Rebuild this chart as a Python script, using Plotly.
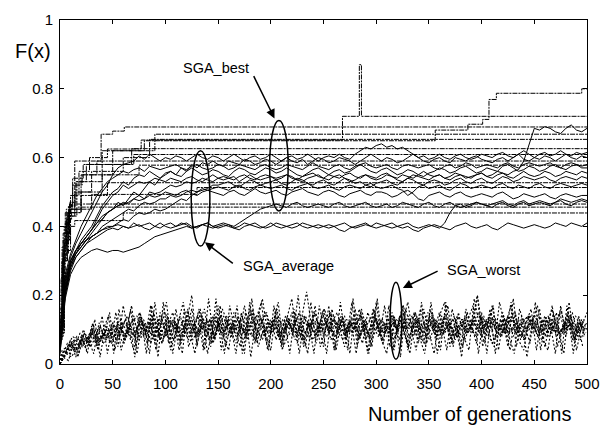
import plotly.graph_objects as go

# ---------------- data ----------------
GENS = list(range(0, 501, 5))

# SGA_average curves (solid), sampled every 5 generations
AVG_1 = [.06,.25,.31,.35,.38,.41,.44,.47,.50,.52,.55,
         .57,.58,.585,.59,.605,.595,.61,.60,.59,.60,
         .595,.605,.60,.59,.60,.61,.60,.595,.605,.60,
         .59,.60,.61,.60,.59,.60,.605,.595,.60,.61,
         .60,.59,.60,.605,.595,.60,.61,.60,.59,.60,
         .605,.60,.61,.60,.595,.61,.62,.63,.625,.635,
         .64,.63,.635,.625,.63,.62,.61,.60,.605,.595,
         .60,.61,.60,.595,.605,.61,.60,.595,.60,.61,
         .605,.60,.61,.615,.605,.60,.61,.62,.61,.60,
         .61,.615,.605,.61,.62,.61,.605,.615,.61,.615]
AVG_2 = [.04,.20,.28,.32,.35,.37,.39,.41,.42,.44,.45,
         .47,.46,.48,.50,.49,.51,.53,.52,.54,.55,
         .56,.55,.57,.56,.58,.57,.585,.58,.59,.58,
         .575,.59,.585,.58,.595,.59,.58,.585,.595,.59,
         .58,.59,.60,.59,.585,.595,.58,.59,.60,.595,
         .585,.59,.60,.595,.59,.58,.59,.60,.61,.60,
         .59,.60,.595,.585,.59,.60,.61,.60,.59,.585,
         .595,.60,.59,.585,.60,.595,.59,.60,.605,.595,
         .59,.585,.595,.60,.59,.60,.61,.595,.59,.60,
         .595,.605,.60,.59,.60,.61,.60,.595,.605,.60]
AVG_3 = [.08,.24,.30,.33,.36,.38,.40,.43,.46,.48,.50,
         .51,.53,.52,.54,.55,.545,.56,.55,.54,.555,
         .56,.55,.545,.56,.57,.56,.55,.555,.565,.56,
         .55,.545,.56,.57,.565,.555,.55,.56,.57,.565,
         .555,.56,.57,.56,.55,.545,.555,.565,.57,.56,
         .55,.56,.565,.555,.56,.57,.58,.57,.56,.555,
         .565,.57,.56,.55,.555,.565,.56,.55,.545,.555,
         .56,.57,.565,.555,.56,.57,.575,.565,.555,.56,
         .57,.565,.56,.575,.58,.57,.56,.565,.575,.57,
         .56,.565,.575,.58,.57,.565,.575,.58,.57,.57]
AVG_4 = [.03,.21,.29,.33,.35,.37,.39,.42,.45,.47,.49,
         .50,.52,.51,.52,.53,.525,.53,.54,.535,.53,
         .54,.535,.53,.54,.545,.535,.53,.54,.55,.54,
         .535,.54,.545,.53,.54,.55,.54,.535,.54,.545,
         .535,.54,.55,.545,.535,.53,.54,.545,.55,.54,
         .535,.545,.55,.54,.53,.535,.545,.55,.54,.535,
         .54,.55,.545,.535,.53,.54,.55,.545,.54,.535,
         .545,.55,.54,.535,.545,.55,.545,.54,.55,.555,
         .545,.54,.55,.555,.545,.54,.55,.56,.55,.545,
         .55,.56,.555,.545,.55,.56,.555,.55,.56,.555]
AVG_5 = [.05,.22,.29,.32,.34,.36,.38,.40,.42,.44,.45,
         .46,.47,.465,.48,.49,.48,.50,.495,.50,.51,
         .52,.515,.52,.53,.525,.53,.54,.535,.53,.54,
         .545,.54,.535,.545,.55,.54,.535,.545,.55,.545,
         .54,.545,.55,.54,.535,.545,.55,.555,.545,.54,
         .55,.545,.54,.55,.555,.545,.54,.55,.545,.54,
         .55,.555,.545,.54,.55,.545,.54,.55,.56,.55,
         .545,.55,.54,.545,.555,.55,.54,.545,.55,.555,
         .545,.55,.56,.555,.55,.56,.565,.59,.64,.685,
         .68,.69,.685,.675,.67,.685,.695,.68,.675,.685]
AVG_6 = [.07,.23,.30,.33,.35,.36,.37,.38,.39,.40,.40,
         .41,.42,.415,.43,.44,.435,.44,.45,.445,.45,
         .46,.47,.48,.475,.49,.50,.505,.51,.52,.52,
         .525,.53,.52,.515,.525,.535,.53,.52,.525,.53,
         .535,.525,.52,.53,.54,.535,.525,.52,.53,.535,
         .525,.52,.53,.54,.535,.525,.53,.52,.515,.525,
         .53,.535,.525,.52,.53,.54,.535,.525,.52,.53,
         .535,.53,.52,.525,.535,.54,.53,.525,.535,.54,
         .53,.525,.535,.545,.54,.53,.535,.545,.54,.535,
         .54,.545,.535,.53,.54,.545,.54,.535,.545,.54]
AVG_7 = [.04,.21,.28,.31,.33,.35,.37,.38,.40,.41,.42,
         .43,.44,.45,.445,.46,.47,.465,.47,.48,.48,
         .49,.485,.49,.50,.505,.50,.51,.505,.51,.515,
         .51,.505,.515,.52,.51,.505,.515,.52,.515,.51,
         .515,.52,.51,.505,.515,.52,.525,.515,.51,.515,
         .52,.51,.505,.515,.52,.515,.51,.52,.525,.515,
         .51,.515,.52,.51,.505,.49,.50,.515,.52,.51,
         .515,.52,.51,.505,.515,.525,.52,.51,.515,.52,
         .515,.51,.52,.525,.515,.51,.52,.515,.51,.52,
         .525,.515,.51,.52,.525,.52,.515,.52,.525,.52]
AVG_8 = [.06,.22,.29,.32,.34,.36,.37,.38,.39,.395,.40,
         .405,.40,.395,.41,.40,.405,.41,.40,.395,.405,
         .41,.40,.405,.41,.40,.395,.405,.41,.40,.405,
         .41,.405,.40,.41,.42,.43,.44,.45,.455,.46,
         .465,.46,.455,.465,.47,.46,.455,.46,.465,.46,
         .455,.465,.47,.46,.455,.46,.465,.47,.46,.455,
         .46,.465,.455,.46,.47,.465,.46,.455,.465,.47,
         .46,.455,.465,.47,.46,.455,.46,.465,.47,.465,
         .46,.465,.47,.475,.465,.46,.47,.475,.465,.47,
         .475,.47,.465,.47,.48,.475,.47,.475,.48,.475]
AVG_9 = [.05,.20,.27,.31,.33,.35,.36,.37,.38,.39,.395,
         .39,.40,.395,.40,.405,.395,.39,.40,.41,.40,
         .395,.40,.41,.405,.395,.40,.405,.41,.40,.395,
         .40,.405,.395,.39,.40,.405,.41,.40,.395,.40,
         .41,.405,.40,.395,.40,.41,.405,.40,.395,.40,
         .405,.40,.39,.385,.395,.40,.405,.41,.40,.395,
         .40,.405,.41,.40,.395,.40,.39,.385,.395,.40,
         .405,.40,.395,.39,.40,.405,.41,.40,.395,.40,
         .405,.395,.39,.40,.41,.405,.40,.395,.40,.405,
         .40,.395,.40,.41,.405,.40,.41,.405,.40,.41]
AVG_10 = [.03,.19,.26,.29,.31,.32,.33,.335,.33,.325,.33,
          .33,.325,.33,.335,.34,.35,.36,.37,.375,.38,
          .385,.39,.395,.40,.395,.40,.405,.40,.395,.40,
          .405,.40,.395,.40,.41,.405,.40,.395,.40,.41,
          .40,.395,.40,.405,.41,.40,.395,.40,.405,.40,
          .395,.40,.405,.41,.40,.395,.40,.405,.40,.41,
          .405,.40,.395,.40,.405,.41,.40,.395,.40,.405,
          .40,.395,.41,.44,.46,.465,.455,.46,.47,.465,
          .46,.455,.465,.47,.46,.455,.465,.47,.46,.465,
          .47,.465,.46,.47,.475,.465,.46,.47,.475,.47]
AVG_11 = [.09,.24,.30,.33,.35,.37,.39,.41,.43,.44,.45,
          .46,.465,.47,.48,.475,.48,.49,.485,.49,.50,
          .495,.49,.50,.505,.495,.49,.50,.505,.50,.495,
          .49,.50,.505,.495,.49,.50,.51,.50,.495,.50,
          .505,.495,.49,.50,.505,.51,.50,.495,.49,.50,
          .505,.50,.49,.485,.495,.50,.505,.495,.49,.50,
          .50,.495,.485,.49,.50,.505,.495,.48,.475,.49,
          .495,.50,.49,.485,.495,.50,.49,.485,.49,.495,
          .49,.485,.495,.50,.49,.48,.485,.495,.49,.485,
          .49,.495,.485,.48,.49,.495,.49,.485,.49,.49]
AVG_12 = [.11,.26,.32,.36,.40,.43,.46,.49,.51,.53,.54,
          .55,.56,.555,.565,.57,.56,.575,.57,.565,.57,
          .575,.58,.57,.565,.575,.58,.57,.565,.57,.58,
          .575,.565,.57,.58,.575,.57,.565,.575,.58,.57,
          .565,.57,.58,.575,.57,.565,.575,.585,.575,.57,
          .565,.575,.58,.57,.565,.575,.58,.585,.575,.57,
          .575,.58,.57,.565,.575,.58,.575,.57,.575,.58,
          .57,.565,.575,.58,.57,.575,.585,.58,.57,.575,
          .58,.575,.57,.58,.585,.575,.57,.58,.585,.58,
          .575,.58,.585,.575,.57,.58,.585,.58,.575,.58]

# SGA_worst curves (dotted); each sampled every 5 generations with its own start
WORST_GENS_0 = list(range(0, 501, 5))
WORST_GENS_1 = [0] + list(range(1, 500, 5))
WORST_GENS_2 = [0] + list(range(2, 500, 5))
WORST_GENS_3 = [0] + list(range(3, 500, 5))
WORST_GENS_4 = [0] + list(range(4, 500, 5))

WORST_1 = [0,.03,.05,.04,.07,.06,.09,.05,.08,.11,.07,
           .12,.08,.10,.14,.07,.09,.13,.06,.11,.15,
           .09,.12,.07,.10,.16,.08,.11,.13,.06,.10,
           .14,.09,.12,.08,.17,.10,.07,.12,.15,.09,
           .11,.06,.13,.10,.08,.14,.12,.07,.10,.16,
           .09,.13,.11,.05,.12,.10,.15,.08,.11,.13,
           .07,.10,.14,.09,.12,.18,.08,.11,.06,.13,
           .10,.15,.09,.12,.07,.11,.14,.10,.08,.13,
           .12,.06,.10,.15,.09,.11,.13,.07,.12,.10,
           .14,.08,.11,.09,.16,.10,.12,.07,.13,.10]
WORST_2 = [0,.02,.06,.05,.04,.08,.07,.10,.06,.09,.08,
           .10,.13,.07,.11,.09,.14,.08,.12,.10,.06,
           .11,.15,.09,.13,.08,.10,.12,.16,.07,.11,
           .09,.13,.10,.06,.14,.11,.08,.12,.19,.09,
           .12,.10,.07,.13,.11,.15,.09,.12,.08,.10,
           .13,.07,.11,.14,.09,.12,.10,.06,.15,.11,
           .08,.12,.10,.14,.07,.13,.11,.09,.16,.10,
           .12,.08,.14,.11,.06,.10,.13,.09,.12,.15,
           .10,.13,.07,.11,.09,.14,.12,.08,.10,.13,
           .11,.07,.12,.16,.09,.10,.14,.08,.11,.12]
WORST_3 = [0,.04,.03,.07,.06,.05,.09,.08,.07,.10,.09,
           .08,.11,.14,.09,.07,.12,.10,.15,.08,.11,
           .13,.10,.06,.12,.14,.09,.11,.08,.13,.10,
           .16,.12,.09,.11,.07,.10,.13,.15,.08,.12,
           .10,.07,.14,.11,.09,.13,.21,.10,.08,.12,
           .11,.14,.09,.07,.12,.10,.16,.11,.08,.13,
           .09,.11,.14,.10,.12,.06,.10,.13,.09,.15,
           .11,.08,.12,.10,.14,.09,.07,.11,.13,.10,
           .12,.15,.09,.11,.08,.13,.10,.12,.14,.09,
           .10,.13,.08,.11,.15,.09,.12,.10,.07,.11]
WORST_4 = [0,.03,.04,.06,.08,.05,.07,.09,.10,.06,.08,
           .09,.07,.12,.10,.08,.13,.11,.06,.10,.14,
           .08,.12,.11,.09,.15,.07,.10,.13,.11,.08,
           .12,.09,.14,.10,.13,.08,.11,.07,.12,.15,
           .09,.11,.13,.08,.10,.14,.07,.12,.09,.11,
           .16,.10,.08,.13,.11,.09,.12,.14,.10,.07,
           .11,.13,.09,.12,.10,.15,.08,.11,.13,.09,
           .07,.12,.10,.14,.11,.08,.13,.09,.12,.20,
           .10,.08,.13,.11,.09,.12,.15,.10,.07,.12,
           .14,.09,.11,.13,.08,.10,.12,.15,.09,.11]
WORST_5 = [0,.02,.05,.07,.05,.09,.06,.08,.11,.07,.10,
           .07,.10,.08,.12,.14,.09,.06,.11,.13,.08,
           .10,.07,.13,.11,.09,.12,.16,.08,.10,.14,
           .09,.11,.08,.13,.10,.07,.15,.12,.09,.11,
           .13,.08,.10,.12,.07,.11,.14,.09,.13,.10,
           .08,.12,.15,.10,.09,.13,.07,.11,.12,.16,
           .10,.09,.12,.08,.14,.11,.10,.13,.07,.12,
           .15,.10,.09,.11,.13,.08,.12,.10,.14,.09,
           .11,.13,.10,.08,.12,.17,.09,.11,.10,.13,
           .08,.12,.14,.10,.09,.11,.13,.07,.12,.10]
WORST_6 = [0,.03,.06,.04,.06,.07,.10,.06,.09,.08,.12,
           .09,.06,.11,.13,.08,.10,.12,.07,.15,.09,
           .12,.10,.08,.11,.13,.06,.12,.09,.14,.11,
           .08,.13,.10,.12,.09,.16,.11,.08,.10,.13,
           .07,.12,.10,.15,.09,.11,.08,.13,.10,.14,
           .09,.11,.13,.08,.12,.10,.14,.07,.11,.10,
           .13,.08,.12,.10,.09,.14,.11,.07,.12,.13,
           .09,.11,.14,.08,.10,.12,.09,.13,.11,.08,
           .13,.10,.12,.09,.14,.08,.11,.13,.10,.12,
           .09,.14,.10,.12,.08,.11,.13,.09,.10,.12]
WORST_7 = [0,.04,.05,.08,.07,.06,.08,.11,.07,.09,.10,
           .11,.09,.13,.08,.10,.12,.09,.14,.11,.07,
           .09,.13,.11,.10,.07,.12,.09,.11,.13,.08,
           .14,.10,.12,.08,.11,.09,.13,.10,.07,.12,
           .11,.14,.09,.12,.10,.08,.12,.11,.15,.09,
           .12,.10,.08,.11,.13,.09,.10,.12,.08,.14,
           .12,.09,.11,.07,.13,.10,.12,.15,.10,.08,
           .10,.13,.08,.12,.10,.14,.11,.09,.12,.10,
           .09,.11,.14,.10,.13,.09,.11,.08,.12,.14,
           .12,.10,.08,.13,.11,.09,.15,.12,.10,.13]
WORST_8 = [0,.02,.04,.05,.09,.07,.05,.08,.10,.08,.06,
           .10,.12,.09,.07,.11,.13,.10,.08,.12,.11,
           .07,.10,.14,.09,.12,.08,.11,.10,.06,.13,
           .10,.08,.11,.14,.09,.12,.10,.13,.11,.08,
           .14,.09,.11,.10,.13,.07,.10,.12,.09,.15,
           .10,.13,.11,.09,.12,.14,.08,.10,.13,.11,
           .09,.12,.08,.13,.11,.10,.14,.09,.12,.10,
           .13,.11,.09,.12,.08,.10,.13,.11,.09,.14,
           .10,.12,.11,.08,.13,.10,.09,.12,.14,.11,
           .08,.11,.13,.10,.09,.12,.10,.14,.11,.09]
WORST_9 = [0,.01,.03,.02,.05,.08,.03,.12,.04,.10,.14,
           .03,.16,.06,.12,.02,.15,.08,.17,.04,.13,
           .18,.05,.11,.03,.16,.09,.14,.04,.19,.07,
           .12,.03,.17,.10,.05,.15,.02,.13,.18,.06,
           .11,.16,.04,.14,.08,.20,.05,.12,.03,.17,
           .09,.15,.04,.18,.07,.13,.03,.16,.10,.05,
           .19,.06,.14,.04,.12,.17,.05,.15,.08,.03,
           .16,.11,.04,.18,.07,.13,.02,.15,.09,.20,
           .05,.12,.17,.04,.14,.08,.03,.16,.11,.06,
           .18,.04,.13,.09,.15,.03,.17,.07,.12,.05]
WORST_10 = [0,.02,.01,.06,.03,.09,.05,.13,.02,.11,.06,
            .15,.04,.10,.17,.03,.12,.07,.14,.02,.18,
            .06,.13,.04,.16,.09,.03,.15,.11,.05,.19,
            .04,.14,.08,.17,.03,.12,.16,.05,.10,.04,
            .17,.07,.13,.03,.15,.10,.05,.18,.06,.12,
            .03,.16,.09,.14,.04,.19,.07,.11,.03,.15,
            .08,.17,.05,.13,.02,.16,.10,.04,.18,.06,
            .14,.03,.12,.17,.05,.15,.08,.04,.19,.11,
            .06,.16,.03,.13,.09,.18,.05,.14,.02,.12,
            .17,.07,.04,.15,.10,.03,.18,.06,.13,.08]
WORST_11 = [0,.03,.07,.02,.08,.04,.11,.06,.14,.03,.12,
            .05,.17,.09,.04,.15,.11,.03,.18,.07,.13,
            .04,.16,.06,.12,.20,.05,.14,.03,.11,.17,
            .08,.04,.15,.12,.03,.18,.06,.14,.09,.04,
            .16,.05,.13,.19,.06,.10,.03,.15,.12,.05,
            .17,.04,.11,.14,.03,.16,.08,.13,.05,.18,
            .07,.03,.15,.10,.17,.04,.12,.06,.16,.09,
            .03,.14,.18,.05,.11,.04,.16,.12,.06,.15,
            .03,.17,.08,.13,.05,.19,.07,.04,.14,.10,
            .16,.05,.12,.03,.17,.08,.14,.04,.11,.15]
WORST_12 = [0,.01,.04,.06,.02,.10,.07,.03,.12,.08,.15,
            .04,.11,.07,.16,.05,.13,.03,.17,.09,.06,
            .14,.03,.12,.18,.05,.10,.16,.04,.13,.07,
            .17,.05,.11,.03,.15,.08,.19,.06,.13,.04,
            .12,.18,.05,.09,.16,.03,.14,.07,.17,.05,
            .11,.15,.04,.13,.08,.18,.05,.12,.03,.16,
            .10,.06,.17,.04,.14,.09,.03,.15,.11,.05,
            .18,.07,.12,.04,.16,.10,.05,.13,.17,.03,
            .14,.08,.05,.18,.11,.04,.15,.07,.12,.16,
            .04,.13,.09,.17,.05,.11,.15,.03,.14,.08]

# SGA_best curves (dash-dot staircases): generation of each step and the new value
BEST_GENS = [
    [0, 2, 4, 8, 12, 21, 35, 39, 50, 61, 500],
    [0, 3, 6, 10, 18, 28, 45, 77, 268, 284, 286, 500],
    [0, 2, 5, 9, 15, 25, 40, 80, 356, 387, 401, 407, 414, 495, 500],
    [0, 3, 7, 14, 30, 60, 85, 500],
    [0, 2, 6, 12, 22, 68, 500],
    [0, 4, 9, 16, 40, 70, 500],
    [0, 1, 5, 14, 500],
    [0, 3, 8, 20, 40, 75, 500],
    [0, 4, 10, 20, 45, 500],
    [0, 3, 9, 30, 130, 500],
    [0, 2, 6, 11, 500],
    [0, 3, 8, 16, 500],
    [0, 4, 10, 14, 60, 500],
    [0, 3, 7, 20, 50, 90, 500],
]
BEST_VALS = [
    [.12, .28, .40, .46, .52, .55, .59, .668, .677, .689, .689],
    [.10, .33, .42, .49, .56, .60, .625, .651, .72, .87, .72, .72],
    [.14, .30, .41, .47, .53, .58, .62, .649, .68, .697, .711, .769, .787, .80, .80],
    [.08, .30, .43, .50, .56, .60, .653, .653],
    [.16, .34, .45, .54, .58, .626, .626],
    [.09, .36, .46, .53, .58, .609, .609],
    [.13, .25, .44, .59, .59],
    [.11, .32, .44, .50, .55, .578, .578],
    [.10, .35, .45, .49, .527, .527],
    [.12, .38, .45, .493, .513, .513],
    [.07, .30, .42, .465, .465],
    [.15, .36, .43, .456, .456],
    [.09, .33, .40, .417, .439, .439],
    [.11, .30, .44, .55, .62, .668, .668],
]

X_TICKS = [0, 50, 100, 150, 200, 250, 300, 350, 400, 450, 500]
Y_TICKS = [0, 0.2, 0.4, 0.6, 0.8, 1]
Y_TICK_TEXT = ["0", "0.2", "0.4", "0.6", "0.8", "1"]

AVERAGE = [AVG_1, AVG_2, AVG_3, AVG_4, AVG_5, AVG_6, AVG_7, AVG_8, AVG_9, AVG_10, AVG_11, AVG_12]
WORST = [(WORST_GENS_0, WORST_1), (WORST_GENS_2, WORST_2), (WORST_GENS_4, WORST_3),
         (WORST_GENS_1, WORST_4), (WORST_GENS_3, WORST_5), (WORST_GENS_0, WORST_6),
         (WORST_GENS_2, WORST_7), (WORST_GENS_4, WORST_8), (WORST_GENS_1, WORST_9),
         (WORST_GENS_3, WORST_10), (WORST_GENS_0, WORST_11), (WORST_GENS_2, WORST_12)]

# ---------------- figure ----------------
FONT = "Liberation Sans, Arial, Helvetica, sans-serif"
fig = go.Figure()

for gx, vals in WORST:
    fig.add_trace(go.Scatter(x=gx, y=vals, mode="lines",
                             line=dict(color="black", width=1.1, dash="2px,2px"),
                             hoverinfo="skip"))

for vals in AVERAGE:
    fig.add_trace(go.Scatter(x=GENS, y=vals, mode="lines",
                             line=dict(color="black", width=1),
                             hoverinfo="skip"))

for gx, vals in zip(BEST_GENS, BEST_VALS):
    fig.add_trace(go.Scatter(x=gx, y=vals, mode="lines",
                             line=dict(color="black", width=1, dash="5px,1px,2px,1px", shape="hv"),
                             hoverinfo="skip"))

axis_common = dict(showline=True, linecolor="black", linewidth=1, mirror="ticks",
                   ticks="inside", ticklen=4, tickcolor="black", showgrid=False,
                   zeroline=False, tickfont=dict(family=FONT, size=15, color="black"))

fig.update_xaxes(range=[0, 500], tickvals=X_TICKS, ticklabelstandoff=6, **axis_common)
fig.update_yaxes(range=[0, 1], tickvals=Y_TICKS, ticktext=Y_TICK_TEXT, ticklabelstandoff=3, **axis_common)

# ellipses marking the three groups
ell = dict(type="circle", xref="x", yref="y", line=dict(color="black", width=1.5))
fig.add_shape(x0=198.9, x1=216.5, y0=0.445, y1=0.708, **ell)
fig.add_shape(x0=124.5, x1=142.2, y0=0.343, y1=0.620, **ell)
fig.add_shape(x0=313.2, x1=324.3, y0=0.014, y1=0.238, **ell)

arrow = dict(text="", showarrow=True, axref="x", ayref="y", xref="x", yref="y",
             arrowhead=2, arrowsize=1.2, arrowwidth=1.5, arrowcolor="black", standoff=0)
fig.add_annotation(x=203.5, y=0.714, ax=183.1, ay=0.841, **arrow)
fig.add_annotation(x=137.5, y=0.354, ax=165.4, ay=0.289, **arrow)
fig.add_annotation(x=325.3, y=0.221, ax=359.7, ay=0.272, **arrow)

lab = dict(showarrow=False, xref="x", yref="y", xanchor="left", yanchor="middle",
           font=dict(family=FONT, size=14.5, color="black"))
fig.add_annotation(x=115.2, y=0.861, text="SGA_best", **lab)
fig.add_annotation(x=171.9, y=0.286, text="SGA_average", **lab)
fig.add_annotation(x=365.2, y=0.273, text="SGA_worst", **lab)

fig.add_annotation(x=-0.0892, y=0.911, xref="paper", yref="paper", xanchor="left",
                   yanchor="middle", showarrow=False, text="F(x)",
                   font=dict(family=FONT, size=20, color="black"))
fig.add_annotation(x=0.777, y=-0.1445, xref="paper", yref="paper", xanchor="center",
                   yanchor="middle", showarrow=False, text="Number of generations",
                   font=dict(family=FONT, size=20, color="black"))

fig.update_layout(width=611, height=425, margin=dict(l=60, r=13, t=11, b=61),
                  paper_bgcolor="white", plot_bgcolor="white", showlegend=False)

fig.write_html("out.html")
